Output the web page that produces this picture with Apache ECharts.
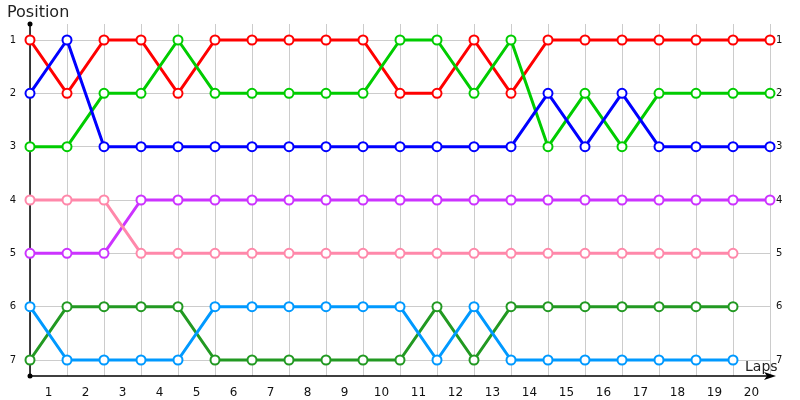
<!DOCTYPE html>
<html>
<head>
<meta charset="utf-8">
<script src="https://cdn.jsdelivr.net/npm/echarts@6/dist/echarts.min.js"></script>
<style>
  html, body { margin: 0; padding: 0; background: #fff; }
  #main { width: 800px; height: 400px; }
</style>
</head>
<body>
<div id="main"></div>
<script>
// lap labels (shown between the grid lines) and position ticks
var lapLabels = ['1','2','3','4','5','6','7','8','9','10','11','12','13','14','15','16','17','18','19','20'];
var positionTicks = [1, 2, 3, 4, 5, 6, 7];

// position of each car after each lap (index 0 = start grid)
var redPos    = [1,2,1,1,2,1,1,1,1,1,2,2,1,2,1,1,1,1,1,1,1];
var greenPos  = [3,3,2,2,1,2,2,2,2,2,1,1,2,1,3,2,3,2,2,2,2];
var bluePos   = [2,1,3,3,3,3,3,3,3,3,3,3,3,3,2,3,2,3,3,3,3];
var purplePos = [5,5,5,4,4,4,4,4,4,4,4,4,4,4,4,4,4,4,4,4,4];
var pinkPos   = [4,4,4,5,5,5,5,5,5,5,5,5,5,5,5,5,5,5,5,5,null];
var dkGreenPos = [7,6,6,6,6,7,7,7,7,7,7,6,7,6,6,6,6,6,6,6,null];
var ltBluePos  = [6,7,7,7,7,6,6,6,6,6,6,7,6,7,7,7,7,7,7,7,null];

var cars = [
  { name: 'Car 1', pos: redPos,     color: '#ff0000' },
  { name: 'Car 2', pos: greenPos,   color: '#00cc00' },
  { name: 'Car 3', pos: bluePos,    color: '#0000ff' },
  { name: 'Car 4', pos: purplePos,  color: '#cc33ff' },
  { name: 'Car 5', pos: pinkPos,    color: '#ff88aa' },
  { name: 'Car 6', pos: dkGreenPos, color: '#229922' },
  { name: 'Car 7', pos: ltBluePos,  color: '#0099ff' }
];

var myChart = echarts.init(document.getElementById('main'));

var series = cars.map(function (c) {
  var pts = [];
  c.pos.forEach(function (p, i) {
    if (p != null) pts.push([i, p]);
  });
  return {
    name: c.name,
    type: 'line',
    data: pts,
    symbol: 'emptyCircle',
    symbolSize: 9,
    showAllSymbol: true,
    itemStyle: { color: c.color, borderWidth: 1 },
    lineStyle: { color: c.color, width: 3 },
    emphasis: { disabled: true },
    z: 3
  };
});

var font = 'DejaVu Sans';

var option = {
  animation: false,
  title: [
    { text: 'Position', left: 2, top: 0,
      textStyle: { fontFamily: font, fontSize: 16, fontWeight: 'normal', color: '#222' } },
    { text: 'Laps', left: 740, top: 355,
      textStyle: { fontFamily: font, fontSize: 14, fontWeight: 'normal', color: '#222' } }
  ],
  grid: { left: 30, right: 30, top: 24, bottom: 24, containLabel: false },
  xAxis: [
    {
      type: 'value', min: 0, max: 20, interval: 1,
      axisLine: { show: true, lineStyle: { color: '#000', width: 1.5 },
        symbol: ['none', 'arrow'], symbolSize: [6, 12], symbolOffset: [0, 6] },
      axisTick: { show: false },
      axisLabel: { show: false },
      splitLine: { show: true, lineStyle: { color: '#cccccc', width: 1 } }
    },
    {
      type: 'category', data: lapLabels, boundaryGap: true, position: 'bottom',
      axisLine: { show: false }, axisTick: { show: false },
      axisLabel: { margin: 11, fontFamily: font, fontSize: 12, color: '#111' },
      splitLine: { show: false }
    }
  ],
  yAxis: [
    {
      type: 'value', inverse: true, min: 0.7, max: 7.3,
      axisLine: { show: true, lineStyle: { color: '#000', width: 1.5 },
        symbol: ['circle', 'circle'], symbolSize: [5, 5] },
      axisTick: { show: false, customValues: positionTicks },
      axisLabel: { customValues: positionTicks, margin: 14, fontFamily: font, fontSize: 10, color: '#111' },
      splitLine: { show: true, lineStyle: { color: '#cccccc', width: 1 } }
    },
    {
      type: 'value', inverse: true, min: 0.7, max: 7.3, position: 'right',
      axisLine: { show: false },
      axisTick: { show: false, customValues: positionTicks },
      axisLabel: { customValues: positionTicks, margin: 6, fontFamily: font, fontSize: 10, color: '#111' },
      splitLine: { show: false }
    }
  ],
  series: series
};

myChart.setOption(option);
</script>
</body>
</html>
